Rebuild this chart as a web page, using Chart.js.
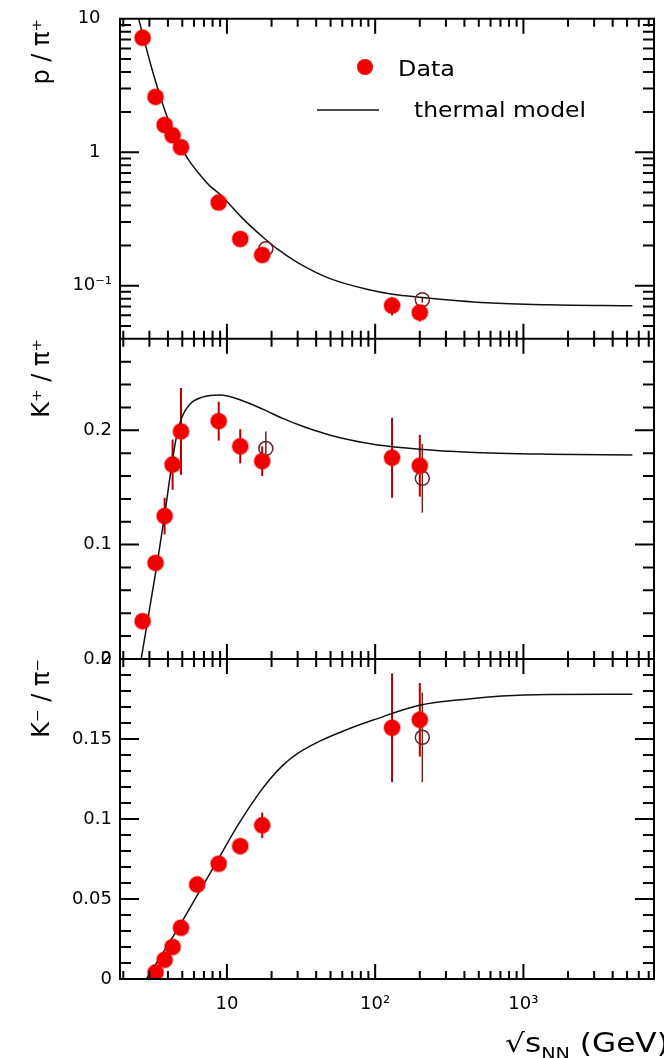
<!DOCTYPE html>
<html>
<head>
<meta charset="utf-8">
<script src="https://cdn.jsdelivr.net/npm/chart.js@4.4.1/dist/chart.umd.min.js"></script>
<style>
  html, body { margin: 0; padding: 0; background: #fff; }
  canvas { display: block; }
</style>
</head>
<body>
<canvas id="ratios" width="664" height="1058"></canvas>
<script>
// p / pi+  (sqrt(s_NN) in GeV)
const pPiX = [2.7, 3.3, 3.8, 4.3, 4.9, 8.8, 12.3, 17.3, 130, 200];
const pPiY = [7.2, 2.6, 1.6, 1.34, 1.09, 0.42, 0.224, 0.17, 0.071, 0.063];
const pPiErr = [0, 0, 0, 0, 0, 0, 0, 0, 0.011, 0.009];
const pPiOpenX = [18.3, 208];
const pPiOpenY = [0.189, 0.0785];
const pPiOpenErr = [0, 0.004];
const pPiModelX = [2.54, 2.74, 3.04, 3.39, 3.83, 4.26, 4.81, 5.6, 6.53, 7.6, 9.0, 12.6, 17.6, 22.1, 30, 49.6, 91, 131, 199, 569, 1466, 5430];
const pPiModelY = [10, 7.2, 4.67, 3.08, 2.03, 1.49, 1.13, 0.855, 0.684, 0.565, 0.483, 0.324, 0.230, 0.187, 0.149, 0.113, 0.0933, 0.0863, 0.082, 0.0745, 0.072, 0.0708];

// K+ / pi+
const kpX = [2.7, 3.3, 3.8, 4.3, 4.9, 8.8, 12.3, 17.3, 130, 200];
const kpY = [0.033, 0.084, 0.125, 0.170, 0.199, 0.208, 0.186, 0.173, 0.176, 0.169];
const kpErr = [0.003, 0.005, 0.016, 0.022, 0.038, 0.017, 0.015, 0.013, 0.035, 0.027];
const kpOpenX = [18.3, 208];
const kpOpenY = [0.184, 0.158];
const kpOpenErr = [0.015, 0.03];
const kpModelX = [2.64, 3.39, 3.77, 4.26, 4.59, 4.96, 5.6, 6.82, 9.0, 12.6, 17.6, 23.8, 32.4, 47.3, 69.3, 101.6, 199, 426, 1466, 5430];
const kpModelY = [0, 0.0843, 0.123, 0.171, 0.196, 0.2113, 0.2226, 0.229, 0.231, 0.2261, 0.2183, 0.2104, 0.2035, 0.1965, 0.1913, 0.1874, 0.1835, 0.1809, 0.1791, 0.1783];

// K- / pi-
const kmX = [3.3, 3.8, 4.3, 4.9, 6.3, 8.8, 12.3, 17.3, 130, 200];
const kmY = [0.004, 0.012, 0.020, 0.032, 0.059, 0.072, 0.083, 0.096, 0.157, 0.162];
const kmErr = [0.001, 0.002, 0.002, 0.003, 0.003, 0.004, 0.005, 0.008, 0.034, 0.023];
const kmOpenX = [208];
const kmOpenY = [0.151];
const kmOpenErr = [0.028];
const kmModelX = [2.86, 3.55, 4.81, 6.53, 8.85, 12.0, 16.3, 19.3, 23.8, 30, 42, 64.3, 97, 199, 426, 714, 1466, 5430];
const kmModelY = [0, 0.0137, 0.0335, 0.0547, 0.0758, 0.0969, 0.1155, 0.1244, 0.1335, 0.141, 0.1485, 0.1558, 0.1618, 0.171, 0.175, 0.1768, 0.1778, 0.178];

// axis ticks
const xTicks = [10, 100, 1000];
const xTickLabels = ['10', '10²', '10³'];
const pPiTicks = [0.1, 1, 10];
const pPiTickLabels = ['10⁻¹', '1  ', '10  '];
const kpTicks = [0, 0.1, 0.2];
const kpTickLabels = ['0', '0.1', '0.2'];
const kmTicks = [0, 0.05, 0.1, 0.15, 0.2];
const kmTickLabels = ['0', '0.05', '0.1', '0.15', '0.2'];

const RED = '#f00000';
const tickFont = { family: 'DejaVu Sans', size: 18 };
const titleFont = { family: 'DejaVu Sans', size: 24 };

const pts = (xs, ys) => xs.map((x, i) => ({ x: x, y: ys[i] }));

function panelAxis(type, min, max, ticks, labels, title) {
  return {
    type: type, min: min, max: max,
    position: 'left',
    stack: 'panels',
    stackWeight: 1,
    grid: { display: false, drawTicks: false },
    border: { display: false },
    afterFit(scale) { scale.width = 120; },
    afterBuildTicks(scale) { scale.ticks = ticks.map((v) => ({ value: v })); },
    ticks: {
      padding: 8, color: '#000', font: tickFont, autoSkip: false,
      callback: (v) => { const i = ticks.indexOf(v); return i < 0 ? '' : labels[i]; }
    },
    title: {
      display: true, text: title, align: 'end', color: '#000', font: titleFont,
      padding: { top: 28, bottom: 0 }
    }
  };
}

function filled(xs, ys, axis) {
  return {
    data: pts(xs, ys), yAxisID: axis, order: 1,
    pointRadius: 8, pointBackgroundColor: RED,
    pointBorderColor: 'rgba(240,0,0,0.35)', pointBorderWidth: 2, showLine: false
  };
}
function open(xs, ys, axis) {
  return {
    data: pts(xs, ys), yAxisID: axis, order: 2,
    pointRadius: 7, pointBackgroundColor: 'rgba(255,255,255,0)',
    pointBorderColor: '#6a2424', pointBorderWidth: 1.5, showLine: false
  };
}
function model(xs, ys, axis) {
  return {
    data: pts(xs, ys), yAxisID: axis, order: 3,
    showLine: true, borderColor: '#111', borderWidth: 1.5,
    pointRadius: 0, cubicInterpolationMode: 'monotone'
  };
}

const errorSets = [
  { xs: pPiX, ys: pPiY, errs: pPiErr, axis: 'y1', color: '#b00000', width: 2 },
  { xs: pPiOpenX, ys: pPiOpenY, errs: pPiOpenErr, axis: 'y1', color: '#6a2424', width: 1.5 },
  { xs: kpX, ys: kpY, errs: kpErr, axis: 'y2', color: '#b00000', width: 2 },
  { xs: kpOpenX, ys: kpOpenY, errs: kpOpenErr, axis: 'y2', color: '#6a2424', width: 1.5 },
  { xs: kmX, ys: kmY, errs: kmErr, axis: 'y3', color: '#b00000', width: 2 },
  { xs: kmOpenX, ys: kmOpenY, errs: kmOpenErr, axis: 'y3', color: '#6a2424', width: 1.5 }
];

const errorBars = {
  id: 'errorBars',
  beforeDatasetsDraw(chart) {
    const { ctx } = chart;
    const xs = chart.scales.x;
    ctx.save();
    for (const set of errorSets) {
      const ys = chart.scales[set.axis];
      ctx.strokeStyle = set.color;
      ctx.lineWidth = set.width;
      set.xs.forEach((x, i) => {
        const e = set.errs[i];
        if (!e) return;
        const px = xs.getPixelForValue(x);
        ctx.beginPath();
        ctx.moveTo(px, ys.getPixelForValue(set.ys[i] - e));
        ctx.lineTo(px, ys.getPixelForValue(set.ys[i] + e));
        ctx.stroke();
      });
    }
    ctx.restore();
  }
};

// ROOT-like frame: boxes around each panel, inward ticks on all sides
const frame = {
  id: 'frame',
  afterDraw(chart) {
    const { ctx, chartArea: { left, right } } = chart;
    const xs = chart.scales.x;
    ctx.save();
    ctx.strokeStyle = '#000';
    ctx.lineWidth = 2;

    const xVals = [];
    for (let d = 1; d <= 1000; d *= 10) {
      for (let m = 1; m <= 9; m++) {
        const v = m * d;
        if (v >= xs.min && v <= xs.max) xVals.push({ v: v, major: m === 1 });
      }
    }
    const yVals = { y1: [], y2: [], y3: [] };
    for (const d of [0.01, 0.1, 1]) {
      for (let m = 1; m <= 9; m++) {
        const v = m * d;
        if (v >= 0.04 - 1e-9) yVals.y1.push({ v: v, major: m === 1 });
      }
    }
    yVals.y1.push({ v: 10, major: true });
    for (let k = 0; k <= 14; k++) yVals.y2.push({ v: k * 0.02, major: k % 5 === 0 });
    for (let k = 0; k <= 20; k++) yVals.y3.push({ v: k * 0.01, major: k % 5 === 0 });

    ctx.beginPath();
    for (const id of ['y1', 'y2', 'y3']) {
      const s = chart.scales[id];
      ctx.rect(left, s.top, right - left, s.bottom - s.top);
      for (const t of xVals) {
        const px = xs.getPixelForValue(t.v);
        const len = t.major ? 15 : 8;
        ctx.moveTo(px, s.top); ctx.lineTo(px, s.top + len);
        ctx.moveTo(px, s.bottom); ctx.lineTo(px, s.bottom - len);
      }
      for (const t of yVals[id]) {
        const py = s.getPixelForValue(t.v);
        const len = t.major ? 19 : 11;
        ctx.moveTo(left, py); ctx.lineTo(left + len, py);
        ctx.moveTo(right, py); ctx.lineTo(right - len, py);
      }
    }
    ctx.stroke();

    // legend
    ctx.fillStyle = RED;
    ctx.beginPath();
    ctx.arc(365, 67, 8, 0, Math.PI * 2);
    ctx.fill();
    ctx.strokeStyle = '#111';
    ctx.lineWidth = 1.5;
    ctx.beginPath();
    ctx.moveTo(317, 110); ctx.lineTo(379, 110);
    ctx.stroke();
    ctx.fillStyle = '#000';
    ctx.font = '22px "DejaVu Sans"';
    ctx.textBaseline = 'alphabetic';
    drawStretched(ctx, 'Data', 398, 76, 57);
    drawStretched(ctx, 'thermal model', 414, 117, 172);

    // x axis title: sqrt(s_NN) (GeV)
    ctx.save();
    ctx.translate(505, 0);
    ctx.scale(1.2, 1);
    ctx.font = '26px "DejaVu Sans"';
    ctx.fillText('√s', 0, 1052);
    let w = ctx.measureText('√s').width;
    ctx.font = '16px "DejaVu Sans"';
    ctx.fillText('NN', w, 1059);
    w += ctx.measureText('NN').width;
    ctx.font = '26px "DejaVu Sans"';
    ctx.fillText(' (GeV)', w, 1052);
    ctx.restore();

    ctx.restore();
  }
};

function drawStretched(ctx, text, x, y, width) {
  const k = width / ctx.measureText(text).width;
  ctx.save();
  ctx.translate(x, y);
  ctx.scale(k, 1);
  ctx.fillText(text, 0, 0);
  ctx.restore();
}

new Chart(document.getElementById('ratios').getContext('2d'), {
  type: 'scatter',
  data: {
    datasets: [
      filled(pPiX, pPiY, 'y1'),
      open(pPiOpenX, pPiOpenY, 'y1'),
      model(pPiModelX, pPiModelY, 'y1'),
      filled(kpX, kpY, 'y2'),
      open(kpOpenX, kpOpenY, 'y2'),
      model(kpModelX, kpModelY, 'y2'),
      filled(kmX, kmY, 'y3'),
      open(kmOpenX, kmOpenY, 'y3'),
      model(kmModelX, kmModelY, 'y3')
    ]
  },
  options: {
    responsive: false,
    animation: false,
    devicePixelRatio: 1,
    layout: { padding: { top: 14, right: 1, bottom: 0, left: 0 } },
    plugins: {
      legend: { display: false },
      tooltip: { enabled: false }
    },
    scales: {
      x: {
        type: 'logarithmic',
        min: 1.9,
        max: 7600,
        position: 'bottom',
        grid: { display: false, drawTicks: false },
        border: { display: false },
        afterFit(scale) { scale.height = 79; },
        afterBuildTicks(scale) { scale.ticks = xTicks.map((v) => ({ value: v })); },
        ticks: {
          padding: 15, color: '#000', font: tickFont, autoSkip: false, maxRotation: 0,
          callback: (v) => { const i = xTicks.indexOf(v); return i < 0 ? '' : xTickLabels[i]; }
        }
      },
      y3: panelAxis('linear', 0, 0.2, kmTicks, kmTickLabels, 'K⁻ / π⁻'),
      y2: panelAxis('linear', 0, 0.28, kpTicks, kpTickLabels, 'K⁺ / π⁺'),
      y1: panelAxis('logarithmic', 0.04, 10, pPiTicks, pPiTickLabels, 'p / π⁺')
    }
  },
  plugins: [errorBars, frame]
});
</script>
</body>
</html>
